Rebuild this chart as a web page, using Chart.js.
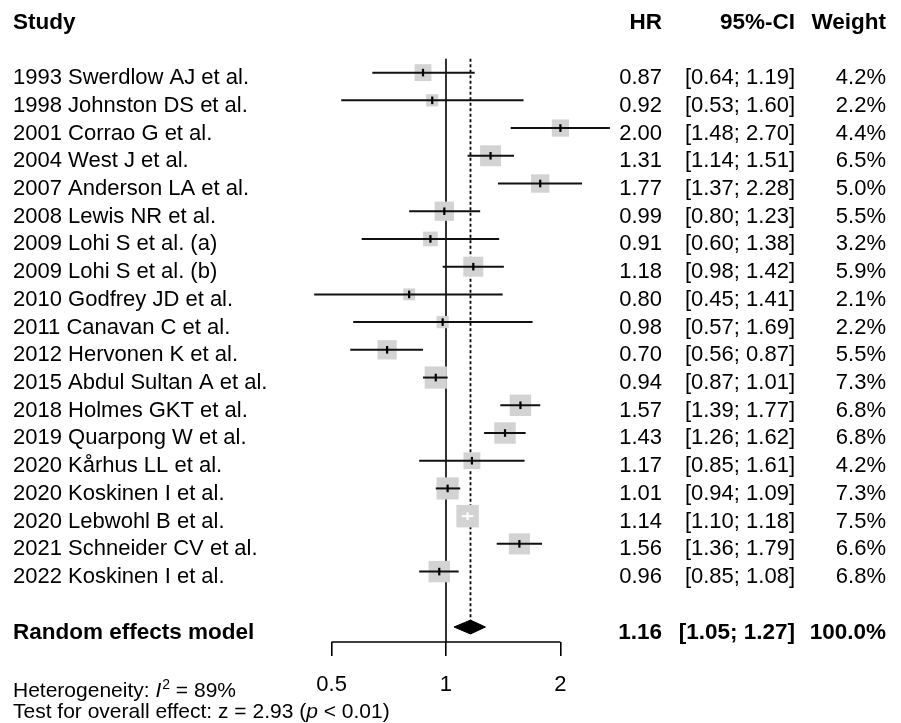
<!DOCTYPE html>
<html>
<head>
<meta charset="utf-8">
<script src="https://cdn.jsdelivr.net/npm/chart.js@4.4.1/dist/chart.umd.min.js"></script>
<style>
html, body { margin: 0; padding: 0; background: #ffffff; }
canvas { display: block; }
</style>
</head>
<body>
<canvas id="forest" width="901" height="723"></canvas>
<script>
// ---------------- DATA ----------------
const studies = [
  "1993 Swerdlow AJ et al.",
  "1998 Johnston DS et al.",
  "2001 Corrao G et al.",
  "2004 West J et al.",
  "2007 Anderson LA et al.",
  "2008 Lewis NR et al.",
  "2009 Lohi S et al. (a)",
  "2009 Lohi S et al. (b)",
  "2010 Godfrey JD et al.",
  "2011 Canavan C et al.",
  "2012 Hervonen K et al.",
  "2015 Abdul Sultan A et al.",
  "2018 Holmes GKT et al.",
  "2019 Quarpong W et al.",
  "2020 Kårhus LL et al.",
  "2020 Koskinen I et al.",
  "2020 Lebwohl B et al.",
  "2021 Schneider CV et al.",
  "2022 Koskinen I et al."
];
const hr      = [0.87, 0.92, 2.00, 1.31, 1.77, 0.99, 0.91, 1.18, 0.80, 0.98, 0.70, 0.94, 1.57, 1.43, 1.17, 1.01, 1.14, 1.56, 0.96];
const ciLower = [0.64, 0.53, 1.48, 1.14, 1.37, 0.80, 0.60, 0.98, 0.45, 0.57, 0.56, 0.87, 1.39, 1.26, 0.85, 0.94, 1.10, 1.36, 0.85];
const ciUpper = [1.19, 1.60, 2.70, 1.51, 2.28, 1.23, 1.38, 1.42, 1.41, 1.69, 0.87, 1.01, 1.77, 1.62, 1.61, 1.09, 1.18, 1.79, 1.08];
const weights = [4.2, 2.2, 4.4, 6.5, 5.0, 5.5, 3.2, 5.9, 2.1, 2.2, 5.5, 7.3, 6.8, 6.8, 4.2, 7.3, 7.5, 6.6, 6.8];

const pooledLabel  = "Random effects model";
const pooledHR     = 1.16;
const pooledLower  = 1.05;
const pooledUpper  = 1.27;
const pooledWeight = 100.0;

const xTickValues = [0.5, 1, 2];
const headerStudy  = "Study";
const headerHR     = "HR";
const headerCI     = "95%-CI";
const headerWeight = "Weight";

const heterogeneityI2 = 89;
const overallZ = 2.93;
const overallP = "< 0.01";

// ---------------- LAYOUT / STYLE ----------------
const FONT = '"Liberation Sans", Arial, Helvetica, sans-serif';
const ROW_HEADER = -2;
const ROW_POOLED = studies.length + 1;
const Y_MIN = -2.62, Y_MAX = 20.54;
const X_MIN = 0.06706, X_MAX = 15.75;
const REF_TOP = -0.5;
const DIAMOND_HALF = 0.25;
const SQUARE_MAX_SIDE = 22.5;
const SQUARE_COLOR = "#d3d3d3";
const maxWeight = Math.max(...weights);

function squareSide(i) { return SQUARE_MAX_SIDE * Math.sqrt(weights[i] / maxWeight); }
function ciInsideBox(chart, i) {
  const xs = chart.scales.x;
  if (!xs) return false;
  const c = xs.getPixelForValue(hr[i]);
  const half = squareSide(i) / 2;
  return xs.getPixelForValue(ciLower[i]) >= c - half && xs.getPixelForValue(ciUpper[i]) <= c + half;
}

// ---------------- DATASETS ----------------
const datasets = [];

// reference line at HR = 1 (solid)
datasets.push({
  type: 'line', data: [{x: 1, y: REF_TOP}, {x: 1, y: Y_MAX}],
  borderColor: '#000', borderWidth: 1.6, pointRadius: 0, order: 10, clip: false
});
// pooled estimate line (dotted)
datasets.push({
  type: 'line', data: [{x: pooledHR, y: REF_TOP}, {x: pooledHR, y: ROW_POOLED - DIAMOND_HALF}],
  borderColor: '#000', borderWidth: 1.8, borderDash: [3, 2.5], pointRadius: 0, order: 10, clip: false
});
// x axis line between first and last tick
datasets.push({
  type: 'line', data: [{x: xTickValues[0], y: Y_MAX}, {x: xTickValues[xTickValues.length - 1], y: Y_MAX}],
  borderColor: '#000', borderWidth: 1.6, pointRadius: 0, order: 10, clip: false
});
// weight squares
datasets.push({
  type: 'scatter',
  data: hr.map((v, i) => ({x: v, y: i})),
  pointStyle: 'rect',
  pointRadius: ctx => squareSide(ctx.dataIndex) / Math.SQRT2,
  pointBackgroundColor: SQUARE_COLOR,
  pointBorderWidth: 0,
  order: 8, clip: false
});
// confidence interval lines
studies.forEach((s, i) => {
  datasets.push({
    type: 'line',
    data: [{x: ciLower[i], y: i}, {x: ciUpper[i], y: i}],
    borderColor: ctx => ciInsideBox(ctx.chart, i) ? '#ffffff' : '#111111',
    borderWidth: 2, pointRadius: 0, order: 6, clip: false
  });
});
// point-estimate ticks
datasets.push({
  type: 'scatter',
  data: hr.map((v, i) => ({x: v, y: i})),
  pointStyle: 'line',
  pointRotation: 90,
  pointRadius: 3.8,
  pointBorderWidth: 2.2,
  pointBorderColor: ctx => ciInsideBox(ctx.chart, ctx.dataIndex) ? '#ffffff' : '#000000',
  order: 5, clip: false
});
// pooled diamond (upper edge filled to lower edge)
datasets.push({
  type: 'line',
  data: [{x: pooledLower, y: ROW_POOLED}, {x: pooledHR, y: ROW_POOLED - DIAMOND_HALF}, {x: pooledUpper, y: ROW_POOLED}],
  borderColor: '#000', borderWidth: 1, backgroundColor: '#000', fill: '+1',
  pointRadius: 0, tension: 0, order: 3, clip: false
});
datasets.push({
  type: 'line',
  data: [{x: pooledLower, y: ROW_POOLED}, {x: pooledHR, y: ROW_POOLED + DIAMOND_HALF}, {x: pooledUpper, y: ROW_POOLED}],
  borderColor: '#000', borderWidth: 1, backgroundColor: '#000', fill: false,
  pointRadius: 0, tension: 0, order: 3, clip: false
});

// ---------------- TEXT PLUGIN ----------------
const COL_LEFT = 13, COL_HR = 662, COL_CI = 795, COL_W = 886;
const BASE_OFF = 11.5;
const fmt2 = v => v.toFixed(2);

const textPlugin = {
  id: 'forestText',
  afterDraw(chart) {
    const ctx = chart.ctx;
    const ys = chart.scales.y;
    ctx.save();
    ctx.fillStyle = '#000';
    ctx.textBaseline = 'alphabetic';

    // header
    let yy = ys.getPixelForValue(ROW_HEADER) + BASE_OFF;
    ctx.font = 'bold 22.5px ' + FONT;
    ctx.textAlign = 'left';  ctx.fillText(headerStudy, COL_LEFT, yy);
    ctx.textAlign = 'right'; ctx.fillText(headerHR, COL_HR, yy);
    ctx.fillText(headerCI, COL_CI, yy);
    ctx.fillText(headerWeight, COL_W, yy);

    // study rows
    ctx.font = '22px ' + FONT;
    studies.forEach((s, i) => {
      const y = ys.getPixelForValue(i) + BASE_OFF;
      ctx.textAlign = 'left';  ctx.fillText(s, COL_LEFT, y);
      ctx.textAlign = 'right';
      ctx.fillText(fmt2(hr[i]), COL_HR, y);
      ctx.fillText('[' + fmt2(ciLower[i]) + '; ' + fmt2(ciUpper[i]) + ']', COL_CI, y);
      ctx.fillText(weights[i].toFixed(1) + '%', COL_W, y);
    });

    // pooled row
    yy = ys.getPixelForValue(ROW_POOLED) + BASE_OFF;
    ctx.font = 'bold 22.5px ' + FONT;
    ctx.textAlign = 'left';  ctx.fillText(pooledLabel, COL_LEFT, yy);
    ctx.textAlign = 'right';
    ctx.fillText(fmt2(pooledHR), COL_HR, yy);
    ctx.fillText('[' + fmt2(pooledLower) + '; ' + fmt2(pooledUpper) + ']', COL_CI, yy);
    ctx.fillText(pooledWeight.toFixed(1) + '%', COL_W, yy);

    // heterogeneity lines
    ctx.textAlign = 'left';
    const fs = 21;
    let x = COL_LEFT;
    const y1 = 696.5;
    ctx.font = fs + 'px ' + FONT;
    let t = 'Heterogeneity: ';
    ctx.fillText(t, x, y1); x += ctx.measureText(t).width;
    ctx.font = 'italic ' + fs + 'px ' + FONT;
    ctx.fillText('I', x, y1); x += ctx.measureText('I').width + 1;
    ctx.font = '14px ' + FONT;
    ctx.fillText('2', x, y1 - 8); x += ctx.measureText('2').width;
    ctx.font = fs + 'px ' + FONT;
    ctx.fillText(' = ' + heterogeneityI2 + '%', x, y1);

    x = COL_LEFT;
    const y2 = 718;
    t = 'Test for overall effect: z = ' + overallZ.toFixed(2) + ' (';
    ctx.fillText(t, x, y2); x += ctx.measureText(t).width;
    ctx.font = 'italic ' + fs + 'px ' + FONT;
    ctx.fillText('p', x, y2); x += ctx.measureText('p').width;
    ctx.font = fs + 'px ' + FONT;
    ctx.fillText(' ' + overallP + ')', x, y2);
    ctx.restore();
  }
};

// ---------------- CHART ----------------
new Chart(document.getElementById('forest'), {
  type: 'scatter',
  data: { datasets },
  plugins: [textPlugin],
  options: {
    responsive: false,
    animation: false,
    events: [],
    layout: { padding: 0, autoPadding: false },
    plugins: { legend: { display: false }, tooltip: { enabled: false }, title: { display: false } },
    scales: {
      x: {
        type: 'logarithmic', position: 'bottom', min: X_MIN, max: X_MAX,
        afterBuildTicks: s => { s.ticks = xTickValues.map(v => ({ value: v })); },
        afterFit: s => { s.height = 81; },
        border: { display: false },
        grid: { drawOnChartArea: false, drawTicks: true, tickLength: 14, color: '#000', lineWidth: 1.6 },
        ticks: {
          color: '#000', font: { family: FONT, size: 22 }, padding: 16,
          maxRotation: 0, minRotation: 0, autoSkip: false,
          callback: v => String(v)
        }
      },
      y: { type: 'linear', reverse: true, min: Y_MIN, max: Y_MAX, display: false }
    }
  }
});
</script>
</body>
</html>
